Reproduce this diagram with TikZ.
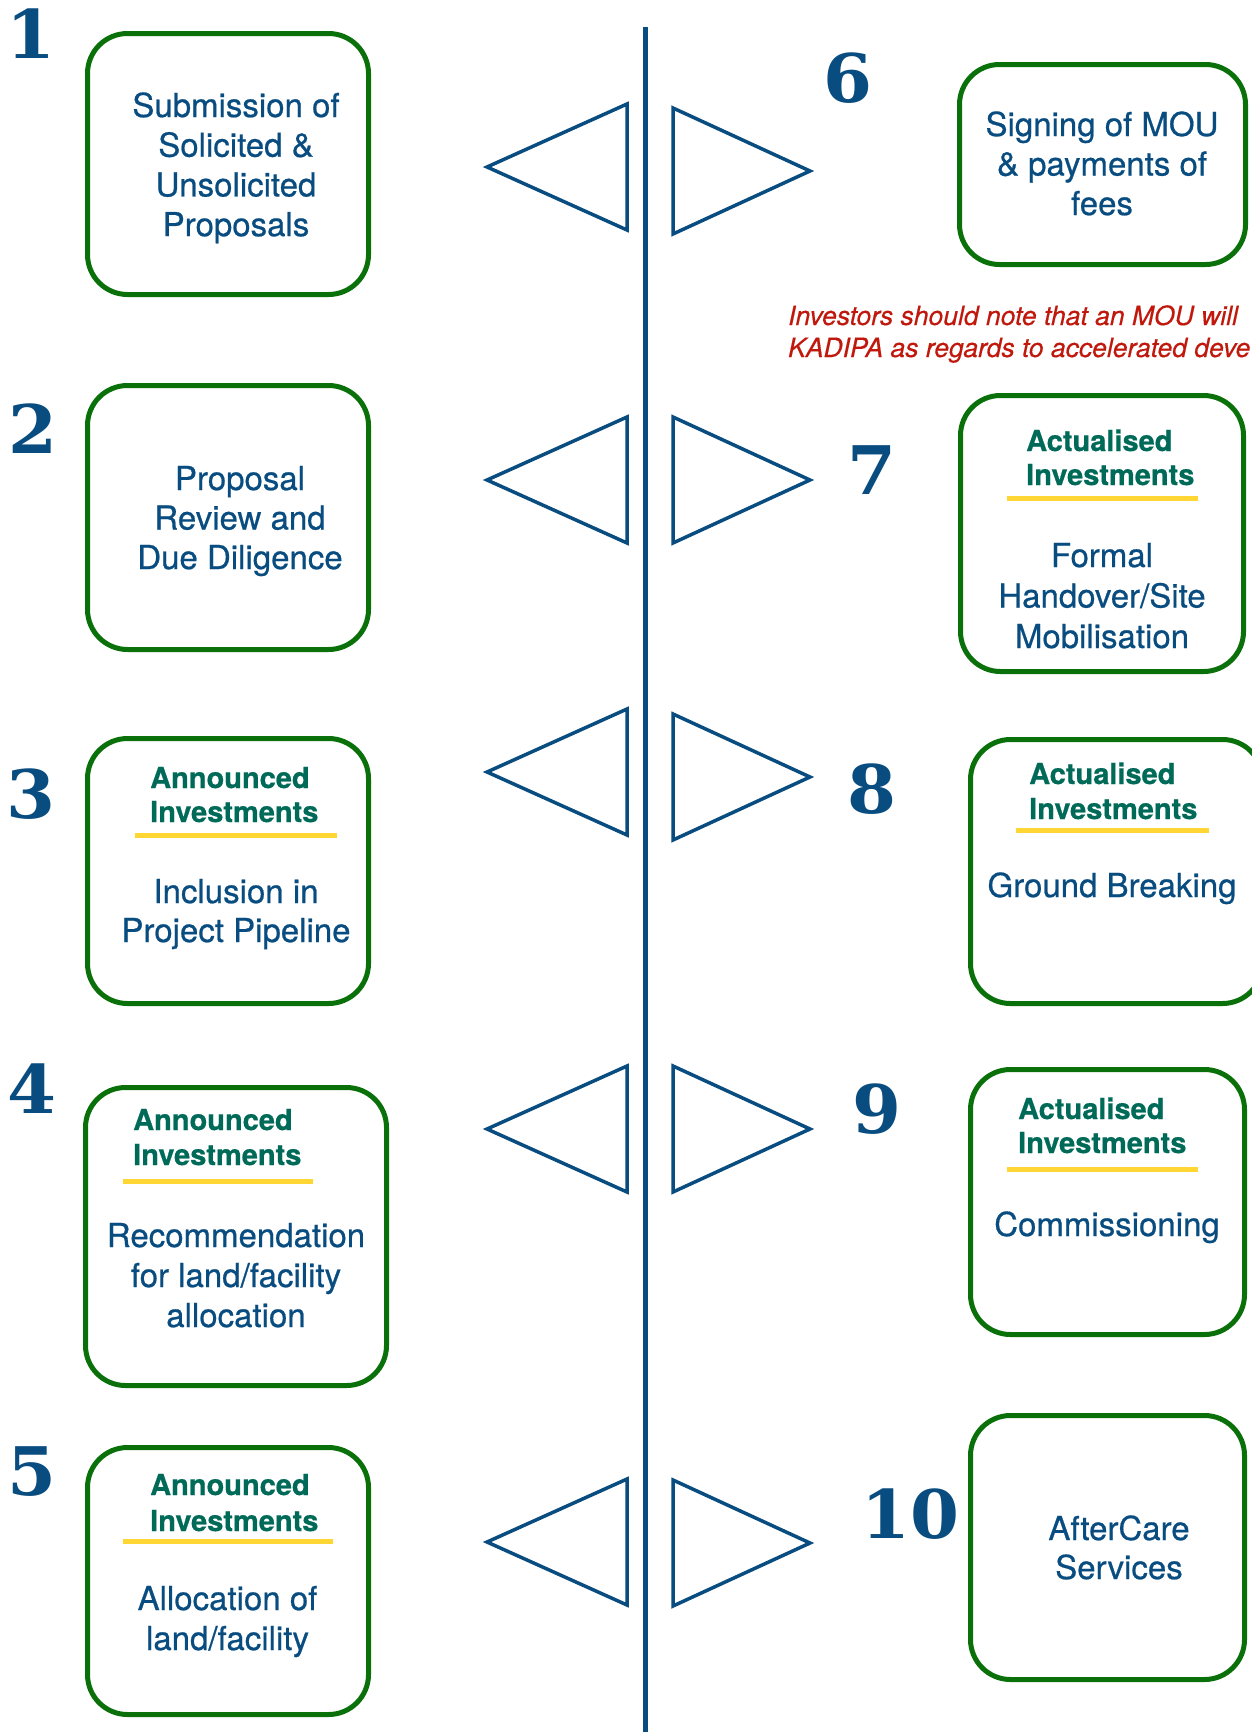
\documentclass[tikz,border=0pt]{standalone}
\usepackage{fontspec}
\newfontfamily\heros{TeX Gyre Heros}[FakeBold=0.6]
\newfontfamily\herosi{TeX Gyre Heros}[FakeBold=0.4]
\newfontfamily\numfnt{DejaVu Serif}
\definecolor{tblue}{RGB}{8,76,128}
\definecolor{tteal}{RGB}{0,106,88}
\definecolor{tgreen}{RGB}{10,112,10}
\definecolor{tyellow}{RGB}{255,214,51}
\definecolor{tred}{RGB}{192,24,12}
% #1 name prefix, #2 x, #3 first baseline y, #4 step, #5 style, #6 lines
\newcommand\tlines[6]{\foreach \mytx [count=\myi] in {#6}{\node[#5] (#1\myi) at (#2,{#3+#4*(\myi-1)}) {\mytx};}}
\begin{document}
\begin{tikzpicture}[x=1pt,y=-1pt,
  box/.style={draw=tgreen, line width=5pt, rounded corners=40pt, inner sep=0pt},
  body/.style={font=\heros\fontsize{33}{40}\selectfont, text=tblue, inner sep=0pt, anchor=base},
  head/.style={font=\heros\bfseries\fontsize{29}{35}\selectfont, text=tteal, inner sep=0pt, anchor=base west},
  num/.style={font=\numfnt\bfseries\fontsize{67}{67}\selectfont, text=tblue, inner sep=0pt, anchor=base, xscale=1.05},
  note/.style={font=\herosi\itshape\fontsize{26.5}{32}\selectfont, text=tred, inner sep=0pt, anchor=base west},
  uline/.style={draw=tyellow, line width=5pt},
  tri/.style={draw=tblue, line width=3.5pt, line join=miter}]
\useasboundingbox (0,0) rectangle (1251,1732);

% central line
\coordinate (ltop) at (645,27);
\coordinate (lbot) at (645,1740);
\draw[tblue, line width=5pt] (ltop) -- (lbot);

% triangles
\foreach \cy in {167,480,772,1129,1542}
  \draw[tri] (487,\cy) -- (627,{\cy-63}) -- (627,{\cy+63}) -- cycle;
\foreach \cy in {171,480,777,1129,1543}
  \draw[tri] (810,\cy) -- (673,{\cy-63}) -- (673,{\cy+63}) -- cycle;

% boxes
\node[box, minimum width=281pt, minimum height=261pt] (B1) at (228,164) {};
\node[box, minimum width=281pt, minimum height=264pt] (B2) at (228,517.5) {};
\node[box, minimum width=281pt, minimum height=265pt] (B3) at (228,871) {};
\node[box, minimum width=301pt, minimum height=298pt] (B4) at (236,1236.5) {};
\node[box, minimum width=281pt, minimum height=267pt] (B5) at (228,1581) {};
\node[box, minimum width=286pt, minimum height=200pt] (B6) at (1102.5,164.5) {};
\node[box, minimum width=283pt, minimum height=276pt] (B7) at (1102,533.5) {};
\node[box, minimum width=292pt, minimum height=264pt] (B8) at (1116.5,871.5) {};
\node[box, minimum width=274pt, minimum height=265pt] (B9) at (1107.5,1202) {};
\node[box, minimum width=274pt, minimum height=264pt] (B10) at (1107.5,1547.5) {};

% numbers
\node[num] (n1) at (31,58) {1};
\node[num] (n2) at (33,453) {2};
\node[num] (n3) at (31,818) {3};
\node[num] (n4) at (32,1113) {4};
\node[num] (n5) at (32,1495) {5};
\node[num] (n6) at (848,102) {6};
\node[num] (n7) at (872,494) {7};
\node[num] (n8) at (872,813) {8};
\node[num] (n9) at (877,1133) {9};
\node[num] (n10) at (910,1538) {10};

% box 1
\tlines{b1t}{236}{117}{39.7}{body}{Submission of,Solicited \&,Unsolicited,Proposals}
% box 2
\tlines{b2t}{240}{490}{39.5}{body}{Proposal,Review and,Due Diligence}
% box 3
\tlines{b3h}{150}{788}{34}{head}{Announced,Investments}
\draw[uline] (135,835) -- (337,835);
\tlines{b3t}{236}{903}{39}{body}{Inclusion in,Project Pipeline}
% box 4
\tlines{b4h}{133}{1130}{35}{head}{Announced,Investments}
\draw[uline] (123,1181) -- (313,1181);
\tlines{b4t}{236}{1247}{40}{body}{Recommendation,for land/facility,allocation}
% box 5
\tlines{b5h}{150}{1495}{36}{head}{Announced,Investments}
\draw[uline] (123,1541) -- (333,1541);
\tlines{b5t}{227.5}{1610}{40}{body}{Allocation of,land/facility}
% box 6
\tlines{b6t}{1102}{136}{39.5}{body}{Signing of MOU,\& payments of,fees}
% note
\node[note] (note1) at (788,325) {Investors should note that an MOU will};
\node[note] (note2) at (788,357) {KADIPA as regards to accelerated deve};
% box 7
\tlines{b7h}{1026}{451}{34}{head}{Actualised,Investments}
\draw[uline] (1007,498) -- (1198,498);
\tlines{b7t}{1102}{567}{40.5}{body}{Formal,Handover/Site,Mobilisation}
% box 8
\tlines{b8h}{1029}{784}{35}{head}{Actualised,Investments}
\draw[uline] (1016,830) -- (1209,830);
\tlines{b8t}{1112}{897}{40}{body}{Ground Breaking}
% box 9
\tlines{b9h}{1018}{1119}{34}{head}{Actualised,Investments}
\draw[uline] (1007,1169) -- (1198,1169);
\tlines{b9t}{1107}{1236}{40}{body}{Commissioning}
% box 10
\tlines{b10t}{1119}{1540}{39}{body}{AfterCare,Services}
\end{tikzpicture}
\end{document}
